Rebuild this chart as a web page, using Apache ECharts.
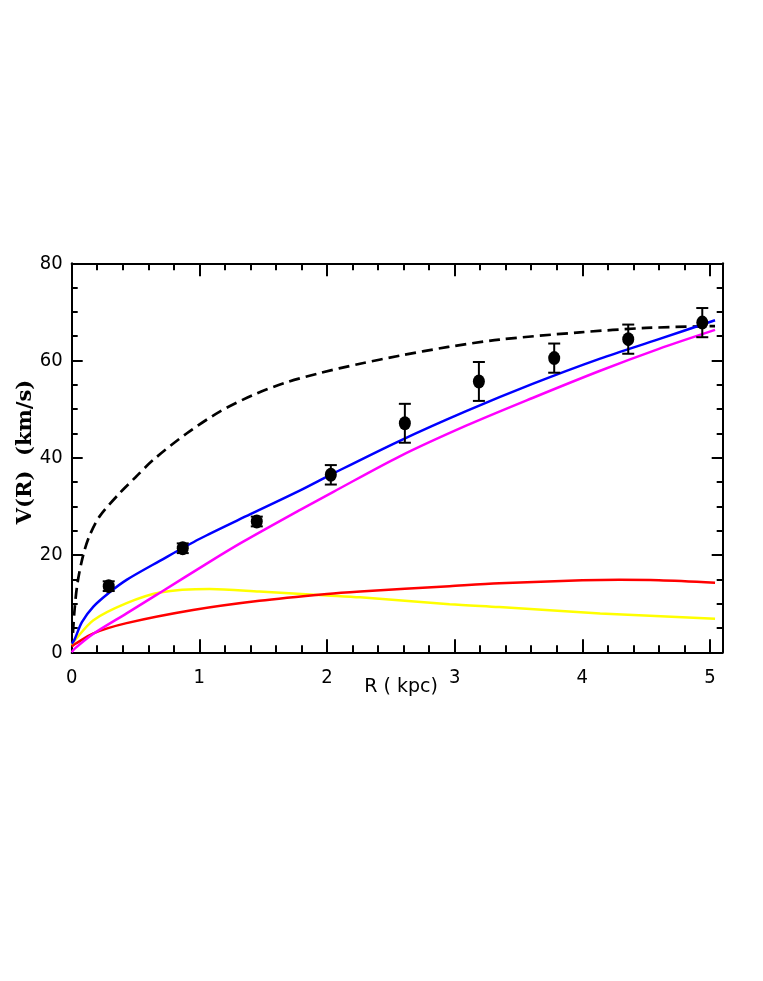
<!DOCTYPE html>
<html>
<head>
<meta charset="utf-8">
<script src="https://cdn.jsdelivr.net/npm/echarts@6/dist/echarts.min.js"></script>
<style>html,body{margin:0;padding:0;background:#fff;}#c{width:763px;height:981px;}</style>
</head>
<body>
<div id="c"></div>
<script>
// Observed rotation curve
var obsR = [0.29, 0.87, 1.45, 2.03, 2.61, 3.19, 3.78, 4.36, 4.94];
var obsV = [13.6, 21.4, 26.9, 36.5, 47.1, 55.7, 60.5, 64.4, 67.8];
var obsErr = [1.0, 1.0, 1.0, 2.0, 4.0, 4.0, 3.0, 3.0, 3.0];

// Model curves
var dashR = [0.01, 0.02, 0.044, 0.09, 0.14, 0.22, 0.378, 0.5, 0.64, 0.9, 1.16, 1.42, 1.68, 1.94, 2.25, 2.57, 2.95, 3.35, 3.98, 4.5, 5.04];
var dashV = [4, 8, 14, 20, 24, 28, 32.8, 36.0, 39.6, 45.0, 49.5, 52.9, 55.5, 57.4, 59.3, 61.0, 62.8, 64.3, 65.8, 66.7, 67.1];

var blueR = [0, 0.02, 0.08, 0.17, 0.3, 0.43, 0.69, 1.0, 1.4, 1.79, 2.05, 2.57, 3.09, 3.61, 4.14, 4.6, 5.04];
var blueV = [1.8, 2.5, 6.2, 9.4, 12.4, 14.9, 18.8, 23.3, 28.4, 33.3, 36.8, 43.5, 49.6, 55.2, 60.4, 64.4, 68.3];

var magR = [0, 0.026, 0.17, 0.43, 0.67, 1.08, 1.34, 1.79, 2.05, 2.57, 3.09, 3.61, 4.14, 4.6, 5.04];
var magV = [0, 0.8, 3.8, 8.0, 11.9, 18.6, 22.7, 29.3, 33.0, 40.3, 46.6, 52.3, 57.9, 62.4, 66.3];

var redR = [0, 0.026, 0.17, 0.43, 0.95, 1.47, 2.0, 2.26, 2.96, 3.35, 4.0, 4.29, 4.6, 5.04];
var redV = [1.2, 1.7, 3.9, 6.0, 8.7, 10.6, 12.0, 12.5, 13.6, 14.2, 14.8, 14.9, 14.8, 14.3];

var yelR = [0, 0.026, 0.17, 0.43, 0.69, 1.08, 1.47, 2.0, 2.26, 2.96, 3.35, 4.14, 5.04];
var yelV = [1.5, 2.5, 6.6, 10.1, 12.3, 13.0, 12.5, 11.7, 11.3, 9.9, 9.3, 8.0, 6.9];

var xTicks = [0, 1, 2, 3, 4, 5];
var yTicks = [0, 20, 40, 60, 80];

function pairs(xs, ys) { return xs.map(function (x, i) { return [x, ys[i]]; }); }

var chart = echarts.init(document.getElementById('c'), null, {renderer: 'canvas'});
var tickFont = '"DejaVu Sans Condensed", "Liberation Sans Narrow", "Liberation Sans", sans-serif';

function xAxisDef(pos, show) {
  return {
    type: 'value', position: pos, min: 0, max: 5.1, interval: 1,
    axisLine: {show: true, onZero: false, lineStyle: {color: '#000', width: 2}},
    axisTick: {show: true, inside: true, length: 13, lineStyle: {color: '#000', width: 2}},
    minorTick: {show: true, splitNumber: 5, length: 7, lineStyle: {color: '#000', width: 2}},
    splitLine: {show: false},
    axisLabel: {show: show, margin: 15, color: '#000', fontSize: 20, fontFamily: tickFont,
      formatter: function (v) { return xTicks.indexOf(v) >= 0 ? String(v) : ''; }}
  };
}
function yAxisDef(pos, show) {
  return {
    type: 'value', position: pos, min: 0, max: 80, interval: 20,
    axisLine: {show: true, onZero: false, lineStyle: {color: '#000', width: 2}},
    axisTick: {show: true, inside: true, length: 11, lineStyle: {color: '#000', width: 2}},
    minorTick: {show: true, splitNumber: 4, length: 6, lineStyle: {color: '#000', width: 2}},
    splitLine: {show: false},
    axisLabel: {show: show, margin: 9, color: '#000', fontSize: 20, fontFamily: tickFont,
      formatter: function (v) { return yTicks.indexOf(v) >= 0 ? String(v) : ''; }}
  };
}

var option = {
  backgroundColor: '#fff',
  animation: false,
  grid: {left: 71.7, top: 263.3, right: 40.3, bottom: 328.7, containLabel: false},
  xAxis: [xAxisDef('bottom', true), xAxisDef('top', false)],
  yAxis: [yAxisDef('left', true), yAxisDef('right', false)],
  graphic: [
    {type: 'text', x: 26, y: 452, rotation: Math.PI / 2,
      style: {text: 'V(R)  (km/s)', font: 'bold 21px "DejaVu Serif", "Liberation Serif", serif', fill: '#000',
        textAlign: 'center', textVerticalAlign: 'middle'}},
    {type: 'text', x: 401, y: 687,
      style: {text: 'R ( kpc)', font: '19px "DejaVu Sans", "Liberation Sans", sans-serif', fill: '#000',
        textAlign: 'center', textVerticalAlign: 'middle'}}
  ],
  series: [
    {type: 'line', data: pairs(dashR, dashV), smooth: 0.3, showSymbol: false, z: 3,
      lineStyle: {color: '#000', width: 2.7, type: [11, 6]}},
    {type: 'line', data: pairs(yelR, yelV), smooth: 0.3, showSymbol: false, z: 3,
      lineStyle: {color: '#ffff00', width: 2.5}},
    {type: 'line', data: pairs(redR, redV), smooth: 0.3, showSymbol: false, z: 3,
      lineStyle: {color: '#ff0000', width: 2.5}},
    {type: 'line', data: pairs(magR, magV), smooth: 0.3, showSymbol: false, z: 3,
      lineStyle: {color: '#ff00ff', width: 2.5}},
    {type: 'line', data: pairs(blueR, blueV), smooth: 0.3, showSymbol: false, z: 3,
      lineStyle: {color: '#0000ff', width: 2.5}},
    {type: 'custom', z: 4,
      data: obsR.map(function (r, i) { return [r, obsV[i] - obsErr[i], obsV[i] + obsErr[i]]; }),
      renderItem: function (params, api) {
        var lo = api.coord([api.value(0), api.value(1)]);
        var hi = api.coord([api.value(0), api.value(2)]);
        var w = 6;
        var st = {stroke: '#000', lineWidth: 2, fill: null};
        return {type: 'group', children: [
          {type: 'line', shape: {x1: lo[0], y1: lo[1], x2: hi[0], y2: hi[1]}, style: st},
          {type: 'line', shape: {x1: lo[0] - w, y1: lo[1], x2: lo[0] + w, y2: lo[1]}, style: st},
          {type: 'line', shape: {x1: hi[0] - w, y1: hi[1], x2: hi[0] + w, y2: hi[1]}, style: st}
        ]};
      }},
    {type: 'scatter', z: 5, data: pairs(obsR, obsV), symbol: 'circle', symbolSize: [12, 14],
      itemStyle: {color: '#000', opacity: 1}}
  ]
};
chart.setOption(option);
</script>
</body>
</html>
